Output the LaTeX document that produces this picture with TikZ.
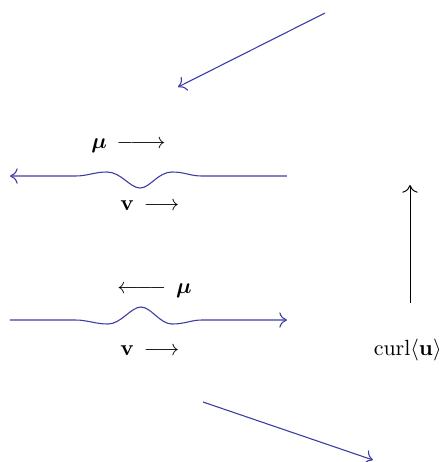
\documentclass[tikz,border=0pt]{standalone}
\usepackage{amsmath,amssymb}
\usepackage{tikz}
\usetikzlibrary{arrows.meta,positioning}
\definecolor{cwave}{HTML}{3D3DA5}
\tikzset{
  wave/.style={draw=cwave, line width=0.5pt},
  flow/.style={wave, -{To[length=3.5pt,width=7pt]}},
  axis/.style={draw=black, line width=0.45pt, -{To[length=3.5pt,width=7pt]}},
  lbl/.style={inner sep=0pt, font=\normalsize},
}
\begin{document}
\begin{tikzpicture}[x=0.016cm,y=-0.016cm]
\useasboundingbox (0,0) rectangle (442,462);
% ---------------- incoming / outgoing rays
\coordinate (inA) at (325,13);
\coordinate (inB) at (178,87);
\coordinate (outA) at (203,402);
\coordinate (outB) at (373,460);
\draw[flow] (inA) -- (inB);
\draw[flow] (outA) -- (outB);
% ---------------- upper interface (dip)
\draw[flow] (287,176) -- (202,176)
  .. controls (190,176) and (185,172) .. (172,172)
  .. controls (158,172) and (150,188) .. (140,188)
  .. controls (130,188) and (121,172) .. (107,172)
  .. controls (94,172) and (88,176) .. (75,176) -- (10,176);
\node[lbl, anchor=west] (muup) at (91,146) {$\boldsymbol{\mu}\,\relbar\joinrel\longrightarrow$};
\node[lbl, anchor=west] (vup) at (120,206) {$\mathbf{v}\,\longrightarrow$};
% ---------------- lower interface (bump)
\draw[flow] (10,320) -- (75,320)
  .. controls (88,320) and (95,324) .. (108,324)
  .. controls (121,324) and (131,307) .. (141,307)
  .. controls (151,307) and (160,324) .. (172,324)
  .. controls (185,324) and (191,320) .. (202,320) -- (287,320);
\node[lbl, anchor=east] (mulow) at (192,291) {$\longleftarrow\joinrel\relbar\,\boldsymbol{\mu}$};
\node[lbl, anchor=west] (vlow) at (120,351) {$\mathbf{v}\,\longrightarrow$};
% ---------------- curl
\coordinate (curlA) at (410,303);
\coordinate (curlB) at (410,185);
\draw[axis] (curlA) -- (curlB);
\node[lbl, anchor=east] (curl) at (442,350) {curl$\langle\mathbf{u}\rangle$};
\end{tikzpicture}
\end{document}
